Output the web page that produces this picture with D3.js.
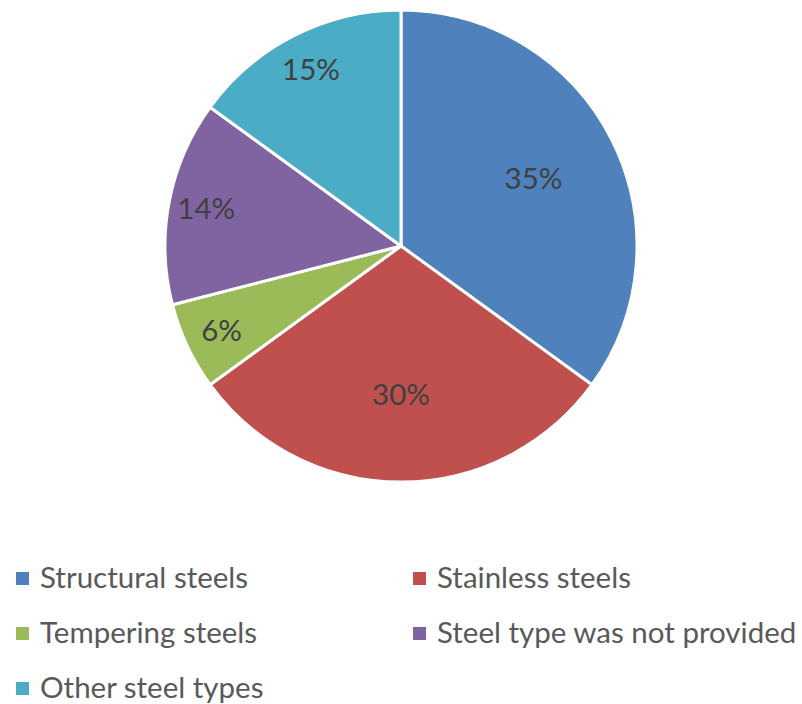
<!DOCTYPE html>
<html>
<head>
<meta charset="utf-8">
<script src="https://cdn.jsdelivr.net/npm/d3@7"></script>
<style>
  html, body { margin: 0; padding: 0; background: #fff; }
  svg { display: block; }
</style>
</head>
<body>
<svg id="chart" width="802" height="704"></svg>
<script>
// Share of steel types (percent)
const categories = ["Structural steels", "Stainless steels", "Tempering steels", "Steel type was not provided", "Other steel types"];
const values = [35, 30, 6, 14, 15];
const colors = ["#4F81BD", "#C0504D", "#9BBB59", "#8064A2", "#4BACC6"];

const svg = d3.select("#chart");
const cx = 401, cy = 246, R = 236;
const FONT = "Lato, 'Open Sans', sans-serif";
const FS = 29.5;

const data = categories.map((c, i) => ({ name: c, value: values[i], color: colors[i] }));

const pie = d3.pie().sort(null).value(d => d.value);
const arcs = pie(data);
const arc = d3.arc().innerRadius(0).outerRadius(R);

const g = svg.append("g").attr("transform", `translate(${cx},${cy})`);

g.selectAll("path.slice")
  .data(arcs)
  .join("path")
  .attr("class", "slice")
  .attr("d", arc)
  .attr("fill", d => d.data.color)
  .attr("stroke", "#fff")
  .attr("stroke-width", 3)
  .attr("stroke-linejoin", "round");

// Percentage labels: big slices sit nearer the centre, small ones near the rim
const total = d3.sum(values);
g.selectAll("text.pct")
  .data(arcs)
  .join("text")
  .attr("class", "pct")
  .attr("transform", d => {
    const share = d.data.value / total;
    const r = share >= 0.25 ? R * 0.63 : R * 0.84;
    const a = (d.startAngle + d.endAngle) / 2;
    return `translate(${r * Math.sin(a)},${-r * Math.cos(a)})`;
  })
  .attr("text-anchor", "middle")
  .attr("dy", "0.35em")
  .attr("font-family", FONT)
  .attr("font-size", FS)
  .attr("fill", "#404040")
  .text(d => d.data.value + "%");

// Legend in two columns
const legend = svg.append("g");
const colX = [16, 413];
const rowY = [578, 633, 688];
const item = legend.selectAll("g.item")
  .data(data)
  .join("g")
  .attr("class", "item")
  .attr("transform", (d, i) => `translate(${colX[i % 2]},${rowY[Math.floor(i / 2)]})`);

item.append("rect")
  .attr("x", 0)
  .attr("y", -6)
  .attr("width", 13)
  .attr("height", 13)
  .attr("fill", d => d.color);

item.append("text")
  .attr("x", 24)
  .attr("y", 0)
  .attr("dy", "0.35em")
  .attr("font-family", FONT)
  .attr("font-size", FS)
  .attr("fill", "#595959")
  .text(d => d.name);
</script>
</body>
</html>
